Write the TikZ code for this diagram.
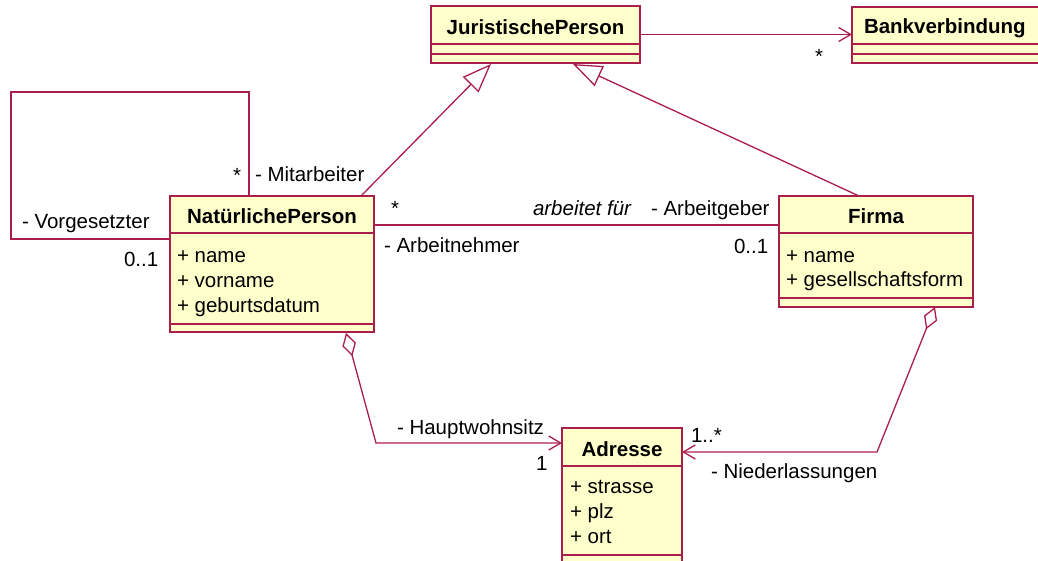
\documentclass[tikz,border=0pt]{standalone}
\usepackage{fontspec}
\setmainfont{Liberation Sans}
\usetikzlibrary{arrows.meta}
\definecolor{umlline}{RGB}{170,30,75}
\definecolor{umlfill}{RGB}{255,255,204}
\begin{document}
\begin{tikzpicture}[x=1pt,y=-1pt,
  every node/.style={font=\fontsize{20.5}{24}\selectfont, inner sep=0pt, outer sep=0pt, text=black},
  lbl/.style={anchor=base west},
  ttl/.style={anchor=base, font=\fontsize{20.5}{24}\selectfont\bfseries},
  umlbox/.style 2 args={draw=umlline, fill=umlfill, line width=1.3pt, rectangle, anchor=north west, minimum width=#1pt, minimum height=#2pt},
  conn/.style={draw=umlline, line width=1.3pt},
  barb/.style={-{Straight Barb[length=12pt,width=14pt]}},
  gen/.style={-{Triangle[open,length=29pt,width=22pt]}},
  agg/.style={{Diamond[open,length=24pt,width=14pt]}-{Straight Barb[length=12pt,width=14pt]}}
]
\useasboundingbox (0,0) rectangle (1038,560);

% boxes
\node[umlbox={209}{57}] (jp) at (431,6) {};
\node[umlbox={193}{56}] (bank) at (852,7) {};
\node[umlbox={204}{136}] (np) at (170,196) {};
\node[umlbox={194}{111}] (firma) at (779,196) {};
\node[umlbox={120}{138}] (adr) at (562,428) {};

% compartments
\draw[conn] ([yshift=-38pt]jp.north west) -- ([yshift=-38pt]jp.north east);
\draw[conn] ([yshift=-48pt]jp.north west) -- ([yshift=-48pt]jp.north east);
\draw[conn] ([yshift=-37pt]bank.north west) -- ([yshift=-37pt]bank.north east);
\draw[conn] ([yshift=-47pt]bank.north west) -- ([yshift=-47pt]bank.north east);
\draw[conn] ([yshift=-37pt]np.north west) -- ([yshift=-37pt]np.north east);
\draw[conn] ([yshift=-128pt]np.north west) -- ([yshift=-128pt]np.north east);
\draw[conn] ([yshift=-37pt]firma.north west) -- ([yshift=-37pt]firma.north east);
\draw[conn] ([yshift=-102pt]firma.north west) -- ([yshift=-102pt]firma.north east);
\draw[conn] ([yshift=-38pt]adr.north west) -- ([yshift=-38pt]adr.north east);
\draw[conn] ([yshift=-127pt]adr.north west) -- ([yshift=-127pt]adr.north east);

% titles
\node[ttl] (jpt) at (535.5,34) {JuristischePerson};
\node[ttl, anchor=base west] (bankt) at (864,33.5) {Bankverbindung};
\node[ttl] (npt) at (272,223) {NatürlichePerson};
\node[ttl] (firmat) at (876,223) {Firma};
\node[ttl] (adrt) at (622,456) {Adresse};

% attributes
\node[lbl] (npa1) at (177,262) {+ name};
\node[lbl] (npa2) at (177,287) {+ vorname};
\node[lbl] (npa3) at (177,312) {+ geburtsdatum};
\node[lbl] (fa1) at (786,262) {+ name};
\node[lbl] (fa2) at (786,286) {+ gesellschaftsform};
\node[lbl] (aa1) at (570,493) {+ strasse};
\node[lbl] (aa2) at (570,518) {+ plz};
\node[lbl] (aa3) at (570,543) {+ ort};

% connector coordinates
\coordinate (npgen) at (361,196);
\coordinate (jpgenl) at (491,64);
\coordinate (firmagen) at (859,196);
\coordinate (jpgenr) at (573,64);
\coordinate (loopa) at (249,196);
\coordinate (loopb) at (249,92);
\coordinate (loopc) at (11,92);
\coordinate (loopd) at (11,239);
\coordinate (loope) at (170,239);
\coordinate (afl) at (374,225);
\coordinate (afr) at (779,225);
\coordinate (npd) at (346,333);
\coordinate (npbend) at (376,443);
\coordinate (adrl) at (562,443);
\coordinate (fd) at (935,307);
\coordinate (fbend) at (877,452);
\coordinate (adrr) at (682,452);

% connectors
\draw[conn, barb] (jp.east) -- (bank.west |- jp.east);
\draw[conn, gen] (npgen) -- (jpgenl);
\draw[conn, gen] (firmagen) -- (jpgenr);
\draw[conn] (loopa) -- (loopb) -- (loopc) -- (loopd) -- (loope);
\draw[conn] (afl) -- (afr);
\draw[conn, agg] (npd) -- (npbend) -- (adrl);
\draw[conn, agg] (fd) -- (fbend) -- (adrr);

% labels
\node[lbl] (s1) at (815,63) {*};
\node[lbl] (s2) at (233,182) {*};
\node[lbl] (mit) at (255,181) {- Mitarbeiter};
\node[lbl] (vor) at (22,228) {- Vorgesetzter};
\node[lbl] (m01a) at (124,266) {0..1};
\node[lbl] (s3) at (391,215) {*};
\node[anchor=base east, font=\fontsize{20.5}{24}\selectfont\itshape] (af) at (631,215) {arbeitet für};
\node[lbl] (ag) at (651,215) {- Arbeitgeber};
\node[lbl] (an) at (384,252) {- Arbeitnehmer};
\node[lbl] (m01b) at (734,253) {0..1};
\node[lbl] (hw) at (397,434) {- Hauptwohnsitz};
\node[lbl] (m1) at (536,470) {1};
\node[lbl] (m1s) at (691,442) {1..*};
\node[lbl] (nl) at (711,478) {- Niederlassungen};
\end{tikzpicture}
\end{document}
